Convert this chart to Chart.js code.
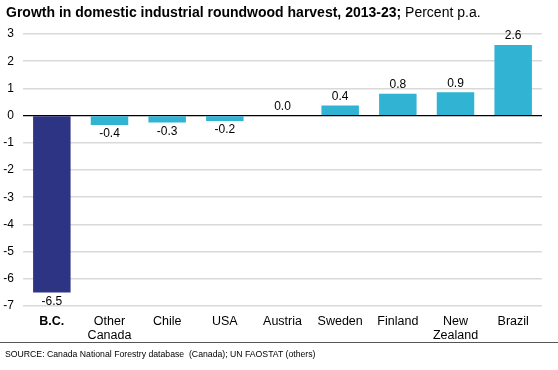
<!DOCTYPE html>
<html>
<head>
<meta charset="utf-8">
<script src="https://cdn.jsdelivr.net/npm/chart.js@4"></script>
<style>
    html, body { margin: 0; padding: 0; background: #fff; }
    #wrap { position: relative; width: 558px; height: 370px; font-family: "Liberation Sans", Arial, sans-serif; }
    #title { position: absolute; left: 6px; top: 4px; font-size: 14px; line-height: 17px; color: #000; white-space: nowrap; }
    #title b { font-weight: bold; }
    #rule { position: absolute; left: 0; top: 342px; width: 558px; height: 0; border-top: 1.5px solid #555; }
    #source { position: absolute; left: 5px; top: 349px; font-size: 8.7px; color: #000; white-space: nowrap; }
    canvas { position: absolute; left: 0; top: 0; }
</style>
</head>
<body>
<div id="wrap">
    <canvas id="chart" width="558" height="370"></canvas>
    <div id="title"><b>Growth in domestic industrial roundwood harvest, 2013-23;</b> Percent p.a.</div>
    <div id="rule"></div>
    <div id="source">SOURCE: Canada National Forestry database&nbsp; (Canada); UN FAOSTAT (others)</div>
</div>
<script>
    'use strict';

    const categories = [['B.C.'], ['Other', 'Canada'], ['Chile'], ['USA'], ['Austria'], ['Sweden'], ['Finland'], ['New', 'Zealand'], ['Brazil']];
    const growth = [-6.5, -0.35, -0.25, -0.2, 0.0, 0.37, 0.8, 0.86, 2.6];
    const valueLabels = ['-6.5', '-0.4', '-0.3', '-0.2', '0.0', '0.4', '0.8', '0.9', '2.6'];
    const yTicks = [3, 2, 1, 0, -1, -2, -3, -4, -5, -6, -7];

    const NAVY = '#2E3484';
    const CYAN = '#31B3D3';

    /** Etiquetas de valor encima o debajo de cada barra */
    const valueLabelPlugin = {
        id: 'valueLabels',
        afterDatasetsDraw(chart) {
            const ctx = chart.ctx;
            const meta = chart.getDatasetMeta(0);
            ctx.save();
            ctx.font = '12px "Liberation Sans", Arial, sans-serif';
            ctx.fillStyle = '#000';
            ctx.textAlign = 'center';
            meta.data.forEach((bar, i) => {
                const v = growth[i];
                if (v < 0) {
                    ctx.textBaseline = 'top';
                    ctx.fillText(valueLabels[i], bar.x, bar.y + 3);
                } else {
                    ctx.textBaseline = 'bottom';
                    ctx.fillText(valueLabels[i], bar.x, bar.y - 3);
                }
            });
            ctx.restore();
        }
    };

    new Chart(document.getElementById('chart'), {
        type: 'bar',
        data: {
            labels: categories,
            datasets: [{
                data: growth,
                backgroundColor: growth.map((v, i) => i === 0 ? NAVY : CYAN),
                borderWidth: 0,
                categoryPercentage: 0.65,
                barPercentage: 1
            }]
        },
        options: {
            responsive: false,
            animation: false,
            events: [],
            layout: { padding: { top: 34, right: 16, bottom: 27, left: 0 } },
            plugins: { legend: { display: false }, tooltip: { enabled: false } },
            scales: {
                x: {
                    grid: { display: false, drawTicks: false },
                    border: { display: false },
                    afterFit(scale) { scale.height = 37; },
                    ticks: {
                        color: '#000',
                        padding: 9,
                        maxRotation: 0,
                        autoSkip: false,
                        font: (c) => ({
                            family: '"Liberation Sans", Arial, sans-serif',
                            size: 12.5,
                            weight: c.index === 0 ? 'bold' : 'normal',
                            lineHeight: 1.12
                        })
                    }
                },
                y: {
                    min: -7,
                    max: 3,
                    afterFit(scale) { scale.width = 23; },
                    afterBuildTicks(scale) { scale.ticks = yTicks.map(v => ({ value: v })); },
                    border: { display: false },
                    grid: {
                        drawTicks: false,
                        color: (c) => c.tick && c.tick.value === 0 ? '#000' : '#D9D9D9',
                        lineWidth: (c) => c.tick && c.tick.value === 0 ? 1.3 : 1.5
                    },
                    ticks: {
                        color: '#000',
                        padding: 9,
                        font: { family: '"Liberation Sans", Arial, sans-serif', size: 12 }
                    }
                }
            }
        },
        plugins: [valueLabelPlugin]
    });
</script>
</body>
</html>
